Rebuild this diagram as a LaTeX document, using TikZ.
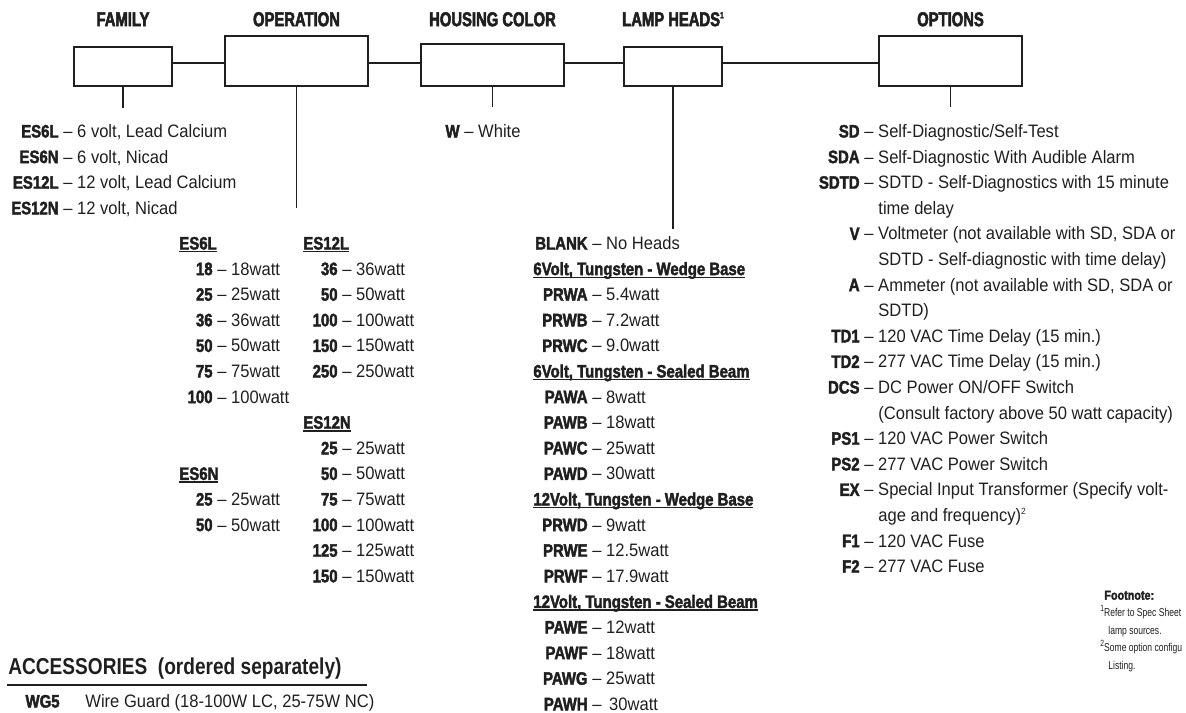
\documentclass[tikz,border=0pt]{standalone}
\usepackage{fontspec}
\setmainfont{Liberation Sans}[FakeStretch=0.92]
\newfontfamily\codefont{Liberation Sans}[FakeStretch=0.83,FakeBold=2.2]
\newfontfamily\headfont{Liberation Sans}[FakeStretch=0.74,FakeBold=2.6]
\newfontfamily\accfont{Liberation Sans}[FakeStretch=0.83]
\newfontfamily\fnfont{Liberation Sans}[FakeStretch=0.75]
\usetikzlibrary{positioning}
\colorlet{ink}{black!88}
\newcommand{\ulh}[1]{\setbox0\hbox{#1}\rlap{\rule[-1.4pt]{\wd0}{0.7pt}}\box0}
\newcommand{\sups}[1]{\raisebox{0.75ex}{\fontsize{4.5}{5}\selectfont#1}}
\tikzset{
  head/.style    = {font=\headfont\bfseries\fontsize{10}{12}\selectfont,text=ink,inner sep=0pt,text height=7.2pt,text depth=0pt},
  selbox/.style  = {draw=ink,line width=0.65pt,inner sep=0pt},
  link/.style    = {draw=ink,line width=0.65pt},
  code/.style    = {font=\codefont\bfseries\fontsize{9}{11}\selectfont,text=ink,inner sep=0pt,text height=6.5pt,text depth=0pt},
  desc/.style    = {font=\fontsize{9}{11}\selectfont,text=ink,inner sep=0pt,text height=6.5pt,text depth=0pt},
  acchd/.style   = {font=\accfont\bfseries\fontsize{11.5}{13}\selectfont,text=ink,inner sep=0pt,text height=8.2pt,text depth=0pt},
  accrule/.style = {draw=ink,line width=1pt},
  fnhead/.style  = {font=\codefont\bfseries\fontsize{6.5}{8}\selectfont,text=ink,inner sep=0pt,text height=4.7pt,text depth=0pt},
  fn/.style      = {font=\fnfont\fontsize{5.7}{7}\selectfont,text=ink,inner sep=0pt,text height=4pt,text depth=0pt}
}
\newcommand{\coderow}[5]{%
  \node[code,anchor=east] (#1) at ({#2},{#3}) {#4};
  \node[desc,right=2pt of #1] (#1t) {– #5};
}

\begin{document}
\begin{tikzpicture}[x=0.5pt,y=-0.5pt]
  \useasboundingbox (0,0) rectangle (1186,712);
  % selection boxes
  \node[selbox,minimum width=49pt,minimum height=19.5pt]  (fam) at (123,66.5)   {};
  \node[selbox,minimum width=71.5pt,minimum height=25pt]  (op)  at (296.5,61)   {};
  \node[selbox,minimum width=71.5pt,minimum height=21pt]  (hc)  at (492.5,65)   {};
  \node[selbox,minimum width=49pt,minimum height=19.5pt]  (lh)  at (673,66.5)   {};
  \node[selbox,minimum width=71.5pt,minimum height=25pt]  (opt) at (950.5,61)   {};
  \coordinate (hdrow) at (0,19);
  \node[head] (famh) at (fam |- hdrow) {FAMILY};
  \node[head] (oph)  at (op |- hdrow)  {OPERATION};
  \node[head] (hch)  at (hc |- hdrow)  {HOUSING COLOR};
  \node[head] (lhh)  at (lh |- hdrow)  {LAMP HEADS\sups{1}};
  \node[head] (opth) at (opt |- hdrow) {OPTIONS};
  % chain and drops
  \coordinate (bus) at (0,63);
  \draw[link] (fam.east |- bus) -- (op.west |- bus);
  \draw[link] (op.east |- bus)  -- (hc.west |- bus);
  \draw[link] (hc.east |- bus)  -- (lh.west |- bus);
  \draw[link] (lh.east |- bus)  -- (opt.west |- bus);
  \coordinate (famtail) at ([yshift=-10.5pt]fam.south);
  \coordinate (optail)  at ([yshift=-60.5pt]op.south);
  \coordinate (hctail)  at ([yshift=-10pt]hc.south);
  \coordinate (lhtail)  at ([yshift=-71pt]lh.south);
  \coordinate (opttail) at ([yshift=-10pt]opt.south);
  \draw[link] (fam.south) -- (famtail);
  \draw[link] (op.south)  -- (optail);
  \draw[link] (hc.south)  -- (hctail);
  \draw[link] (lh.south)  -- (lhtail);
  \draw[link] (opt.south) -- (opttail);
  % family
  \foreach \c/\t [count=\i from 0] in {ES6L/{6 volt, Lead Calcium},ES6N/{6 volt, Nicad},
      ES12L/{12 volt, Lead Calcium},ES12N/{12 volt, Nicad}}
    {\coderow{fam\i}{59}{131+25.6*\i}{\c}{\t}}
  % housing color
  \coderow{hcw}{460}{131}{W}{White}
  % operation
  \node[code,anchor=west] (es6l)  at (179,243)   {\ulh{ES6L}};
  \node[code,anchor=west] (es6n)  at (179,473.4) {\ulh{ES6N}};
  \node[code,anchor=west] (es12l) at (303,243)   {\ulh{ES12L}};
  \node[code,anchor=west] (es12n) at (303,422.2) {\ulh{ES12N}};
  \foreach \c [count=\i] in {18,25,36,50,75,100}
    {\coderow{sl\i}{213}{243+25.6*\i}{\c}{\c watt}}
  \foreach \c [count=\i from 10] in {25,50}
    {\coderow{sn\i}{213}{243+25.6*\i}{\c}{\c watt}}
  \foreach \c [count=\i] in {36,50,100,150,250}
    {\coderow{tl\i}{338}{243+25.6*\i}{\c}{\c watt}}
  \foreach \c [count=\i from 8] in {25,50,75,100,125,150}
    {\coderow{tn\i}{338}{243+25.6*\i}{\c}{\c watt}}
  % lamp heads
  \foreach \k/\c/\t in {0/BLANK/{No Heads},2/PRWA/5.4watt,3/PRWB/7.2watt,4/PRWC/9.0watt,
      6/PAWA/8watt,7/PAWB/18watt,8/PAWC/25watt,9/PAWD/30watt,
      11/PRWD/9watt,12/PRWE/12.5watt,13/PRWF/17.9watt,
      15/PAWE/12watt,16/PAWF/18watt,17/PAWG/25watt,18/PAWH/{\,30watt}}
    {\coderow{lamp\k}{588}{243+25.6*\k}{\c}{\t}}
  \foreach \k/\t in {1/{6Volt, Tungsten - Wedge Base},5/{6Volt, Tungsten - Sealed Beam},
      10/{12Volt, Tungsten - Wedge Base},14/{12Volt, Tungsten - Sealed Beam}}
    {\node[code,anchor=west] (lgrp\k) at (533,{243+25.6*\k}) {\ulh{\t}};}
  % options
  \foreach \k/\c/\t in {0/SD/{Self-Diagnostic/Self-Test},1/SDA/{Self-Diagnostic With Audible Alarm},
      2/SDTD/{SDTD - Self-Diagnostics with 15 minute},4/V/{Voltmeter (not available with SD, SDA or},
      6/A/{Ammeter (not available with SD, SDA or},8/TD1/{120 VAC Time Delay (15 min.)},
      9/TD2/{277 VAC Time Delay (15 min.)},10/DCS/{DC Power ON/OFF Switch},
      12/PS1/{120 VAC Power Switch},13/PS2/{277 VAC Power Switch},
      14/EX/{Special Input Transformer (Specify volt-},16/F1/{120 VAC Fuse},17/F2/{277 VAC Fuse}}
    {\coderow{opt\k}{860}{131+25.6*\k}{\c}{\t}}
  \foreach \k/\t in {3/{time delay},5/{SDTD - Self-diagnostic with time delay)},7/{SDTD)},
      11/{(Consult factory above 50 watt capacity)},15/{age and frequency)\sups{2}}}
    {\node[desc,anchor=west] (optc\k) at (878,{131+25.6*\k}) {\t};}
  % footnote
  \node[fnhead,anchor=west] (fnh) at (1104,595)   {Footnote:};
  \node[fn,anchor=west]     (fn1) at (1100,612.5) {\sups{1}Refer to Spec Sheet};
  \node[fn,anchor=west]     (fn2) at (1108,630)   {lamp sources.};
  \node[fn,anchor=west]     (fn3) at (1100,647.5) {\sups{2}Some option configu};
  \node[fn,anchor=west]     (fn4) at (1108,665)   {Listing.};
  % accessories
  \node[acchd,anchor=west] (acc) at (8,666) {ACCESSORIES\ \ (ordered separately)};
  \draw[accrule] (7,685) -- (367,685);
  \node[code,anchor=east] (wg5)  at (60,701) {WG5};
  \node[desc,anchor=west] (wg5t) at (85,701) {Wire Guard (18-100W LC, 25-75W NC)};
\end{tikzpicture}
\end{document}
